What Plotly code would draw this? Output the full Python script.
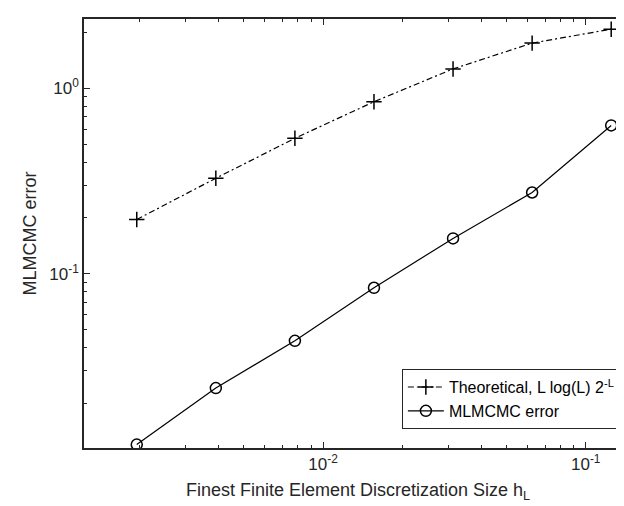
import plotly.graph_objects as go
import numpy as np

# Data
h_values = [0.001953125, 0.00390625, 0.0078125, 0.015625, 0.03125, 0.0625, 0.125]
theoretical = [0.196, 0.327, 0.537, 0.845, 1.27, 1.75, 2.08]
mlmcmc_error = [0.0120, 0.0242, 0.0435, 0.084, 0.155, 0.274, 0.63]

x_major = [0.01, 0.1]
x_major_text = ["10<sup>-2</sup>", "10<sup>-1</sup>"]
y_major = [0.1, 1.0]
y_major_text = ["10<sup>-1</sup>", "10<sup>0</sup>"]

x_minor = [m * 10.0 ** e for e in (-3, -2, -1) for m in range(2, 10)]
y_minor = [m * 10.0 ** e for e in (-2, -1, 0) for m in range(2, 10)]

FONT = "Liberation Sans, Arial, Helvetica, sans-serif"
AXC = "#262626"

fig = go.Figure()
fig.add_trace(go.Scatter(
    x=h_values, y=theoretical, mode="lines+markers",
    name="Theoretical, L log(L) 2<sup>-L</sup>&nbsp;",
    line=dict(color="black", width=1.2, dash="6px,3px,2px,3px"),
    marker=dict(symbol="cross-thin", size=11, line=dict(color="black", width=1.5)),
))
fig.add_trace(go.Scatter(
    x=h_values, y=mlmcmc_error, mode="lines+markers",
    name="MLMCMC error",
    line=dict(color="black", width=1.2),
    marker=dict(symbol="circle-open", size=11, color="black", line=dict(color="black", width=1.5)),
))

fig.update_layout(
    width=624, height=506,
    margin=dict(l=76, r=0, t=11, b=66),
    paper_bgcolor="white", plot_bgcolor="white",
    font=dict(family=FONT, size=17, color=AXC),
    showlegend=True,
    legend=dict(
        x=0.987, y=0.044, xanchor="right", yanchor="bottom",
        bordercolor=AXC, borderwidth=1, bgcolor="white",
        font=dict(family=FONT, size=16, color="black"),
        tracegroupgap=0, itemwidth=36,
    ),
)
fig.update_xaxes(
    type="log", range=[np.log10(0.00123), np.log10(0.150)],
    showline=True, linecolor=AXC, linewidth=1.5, mirror="ticks",
    showgrid=False, zeroline=False,
    ticks="inside", ticklen=6, tickwidth=1, tickcolor=AXC,
    tickmode="array", tickvals=x_major, ticktext=x_major_text,
    tickfont=dict(family=FONT, size=17, color=AXC),
    minor=dict(ticks="inside", ticklen=3, tickcolor=AXC, tickmode="array", tickvals=x_minor, showgrid=False),
    title=dict(text="Finest Finite Element Discretization Size h<sub>L</sub>", standoff=10,
               font=dict(family=FONT, size=18, color=AXC)),
)
fig.update_yaxes(
    type="log", range=[np.log10(0.0115), np.log10(2.36)],
    showline=True, linecolor=AXC, linewidth=1.5, mirror=False,
    showgrid=False, zeroline=False,
    ticks="inside", ticklen=6, tickwidth=1, tickcolor=AXC,
    tickmode="array", tickvals=y_major, ticktext=y_major_text,
    tickfont=dict(family=FONT, size=17, color=AXC),
    minor=dict(ticks="inside", ticklen=3, tickcolor=AXC, tickmode="array", tickvals=y_minor, showgrid=False),
    title=dict(text="MLMCMC error", standoff=8, font=dict(family=FONT, size=18, color=AXC)),
)

fig.write_html("out.html")
